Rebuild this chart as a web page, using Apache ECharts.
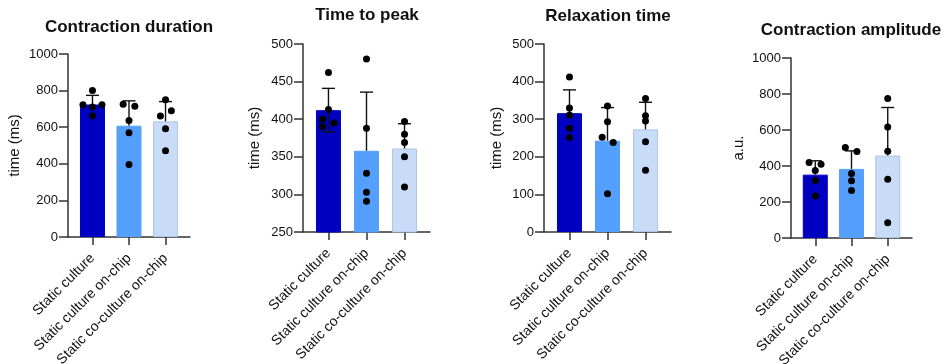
<!DOCTYPE html>
<html>
<head>
<meta charset="utf-8">
<script src="https://cdn.jsdelivr.net/npm/echarts@6/dist/echarts.min.js"></script>
<style>
  html, body { margin: 0; padding: 0; background: #fff; }
  #chart { width: 949px; height: 364px; }
</style>
</head>
<body>
<div id="chart"></div>
<script>
// 分组
const categories = ['Static culture', 'Static culture on-chip', 'Static co-culture on-chip']

// Contraction duration
const durationMean = [724, 608, 632]
const durationSd = [50, 136, 108]
const durationSdLow = [0, 0, 0]
const durationDots = [
    [801, 723, 710, 723, 662],
    [726, 715, 637, 569, 396],
    [750, 690, 661, 591, 471]
]
const durationJitter = [
    [0, -0.26, 0, 0.26, 0],
    [-0.16, 0.16, 0, 0, 0],
    [0, 0.16, -0.14, 0, 0]
]

// Time to peak
const peakMean = [412, 358, 361]
const peakSd = [29, 78, 33]
const peakSdLow = [29, 0, 0]
const peakDots = [
    [462, 413, 400, 395, 390],
    [480, 388, 328, 303, 291],
    [397, 380, 369, 350, 310]
]
const peakJitter = [
    [0, 0, -0.16, 0.15, -0.16],
    [0, 0, 0, 0, 0],
    [0, 0, 0, 0, 0]
]

// Relaxation time
const relaxMean = [316, 243, 273]
const relaxSd = [62, 88, 72]
const relaxSdLow = [0, 0, 0]
const relaxDots = [
    [412, 330, 311, 276, 251],
    [335, 293, 252, 238, 102],
    [355, 309, 295, 240, 164]
]
const relaxJitter = [
    [0, 0, 0, 0, 0],
    [0, 0, -0.14, 0.15, 0],
    [0, 0, 0, 0, 0]
]

// Contraction amplitude
const ampMean = [352, 384, 458]
const ampSd = [77, 100, 267]
const ampSdLow = [0, 0, 0]
const ampDots = [
    [420, 410, 375, 320, 233],
    [503, 481, 359, 318, 264],
    [775, 617, 482, 327, 85]
]
const ampJitter = [
    [-0.17, 0.16, 0, 0, 0],
    [-0.17, 0.15, 0, 0, 0],
    [0, 0, 0, 0, 0]
]

const panels = [
    { title: 'Contraction duration', yName: 'time (ms)', min: 0, max: 1000, interval: 200,
      mean: durationMean, sd: durationSd, sdLow: durationSdLow, dots: durationDots, jitter: durationJitter,
      grid: { left: 68, top: 54, width: 122, height: 183 }, titlePos: [129, 19], nameGap: 46 },
    { title: 'Time to peak', yName: 'time (ms)', min: 250, max: 500, interval: 50,
      mean: peakMean, sd: peakSd, sdLow: peakSdLow, dots: peakDots, jitter: peakJitter,
      grid: { left: 303, top: 44, width: 127, height: 188 }, titlePos: [367, 7], nameGap: 41 },
    { title: 'Relaxation time', yName: 'time (ms)', min: 0, max: 500, interval: 100,
      mean: relaxMean, sd: relaxSd, sdLow: relaxSdLow, dots: relaxDots, jitter: relaxJitter,
      grid: { left: 544, top: 44, width: 127, height: 188 }, titlePos: [608, 8], nameGap: 40 },
    { title: 'Contraction amplitude', yName: 'a.u.', min: 0, max: 1000, interval: 200,
      mean: ampMean, sd: ampSd, sdLow: ampSdLow, dots: ampDots, jitter: ampJitter,
      grid: { left: 791, top: 58, width: 121, height: 180 }, titlePos: [851, 22], nameGap: 45 }
]

const barColors = ['#0000c0', '#55a0ff', '#c8dcf8']
const barBorders = ['#0000c0', '#55a0ff', '#aec6e6']
const font = '"Liberation Sans", Arial, sans-serif'
const axisColor = '#333'

let titles = []
let grids = []
let xAxes = []
let yAxes = []
let series = []

panels.forEach((p, k) => {
    titles.push({
        text: p.title,
        left: p.titlePos[0],
        top: p.titlePos[1],
        textAlign: 'center',
        padding: 0,
        textStyle: { fontFamily: font, fontSize: 17, fontWeight: 'bold', color: '#111' }
    })
    grids.push(Object.assign({ containLabel: false, outerBoundsMode: 'none' }, p.grid))
    xAxes.push({
        type: 'value',
        gridIndex: k,
        min: -0.67,
        max: 2.67,
        splitLine: { show: false },
        axisLine: { show: true, onZero: false, lineStyle: { color: axisColor, width: 1.5 } },
        axisTick: { show: true, length: 8, customValues: [0, 1, 2], lineStyle: { color: axisColor, width: 1.5 } },
        axisLabel: {
            customValues: [0, 1, 2],
            rotate: 45,
            margin: 19,
            fontFamily: font,
            fontSize: 14,
            color: '#111',
            formatter: v => categories[Math.round(v)] || ''
        }
    })
    yAxes.push({
        type: 'value',
        gridIndex: k,
        min: p.min,
        max: p.max,
        interval: p.interval,
        name: p.yName,
        nameLocation: 'middle',
        nameGap: p.nameGap,
        nameTextStyle: { fontFamily: font, fontSize: 15, color: '#111' },
        splitLine: { show: false },
        axisLine: { show: true, onZero: false, lineStyle: { color: axisColor, width: 1.5 } },
        axisTick: { show: true, length: 9, lineStyle: { color: axisColor, width: 1.5 } },
        axisLabel: { margin: 10, fontFamily: font, fontSize: 13, color: '#111', formatter: v => String(v) }
    })
    // 柱子
    series.push({
        type: 'bar',
        xAxisIndex: k,
        yAxisIndex: k,
        barWidth: 25,
        z: 2,
        data: p.mean.map((m, i) => ({
            value: [i, m],
            itemStyle: { color: barColors[i], borderColor: barBorders[i], borderWidth: 1 }
        }))
    })
    // 误差线 (mean ± SD)
    series.push({
        type: 'custom',
        xAxisIndex: k,
        yAxisIndex: k,
        z: 3,
        clip: false,
        data: p.mean.map((m, i) => [i, m]),
        renderItem: (params, api) => {
            const i = params.dataIndex
            const m = p.mean[i]
            const top = api.coord([i, m + p.sd[i]])
            const bottom = api.coord([i, m - p.sdLow[i]])
            const style = { stroke: '#111', lineWidth: 1.4 }
            const children = [
                { type: 'line', shape: { x1: top[0], y1: top[1], x2: bottom[0], y2: bottom[1] }, style },
                { type: 'line', shape: { x1: top[0] - 6.5, y1: top[1], x2: top[0] + 6.5, y2: top[1] }, style }
            ]
            if (p.sdLow[i] > 0) {
                children.push({ type: 'line', shape: { x1: bottom[0] - 6.5, y1: bottom[1], x2: bottom[0] + 6.5, y2: bottom[1] }, style })
            }
            return { type: 'group', children }
        }
    })
    // 散点
    let pts = []
    p.dots.forEach((arr, i) => {
        arr.forEach((v, j) => pts.push([i + p.jitter[i][j], v]))
    })
    series.push({
        type: 'scatter',
        xAxisIndex: k,
        yAxisIndex: k,
        z: 4,
        symbolSize: 7,
        itemStyle: { color: '#000', opacity: 1 },
        data: pts
    })
})

let myChart = echarts.init(document.getElementById('chart'), null, { renderer: 'canvas' })
myChart.setOption({
    animation: false,
    title: titles,
    grid: grids,
    xAxis: xAxes,
    yAxis: yAxes,
    series: series
})
</script>
</body>
</html>
